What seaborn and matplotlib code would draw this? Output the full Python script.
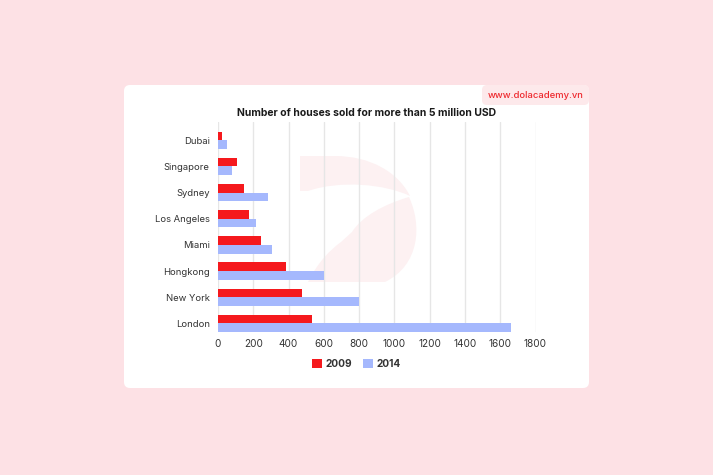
import pandas as pd
import matplotlib.pyplot as plt
import seaborn as sns
from matplotlib.patches import FancyBboxPatch, PathPatch
from matplotlib.path import Path
from matplotlib.transforms import Affine2D

# Data
cities = ['Dubai', 'Singapore', 'Sydney', 'Los Angeles', 'Miami', 'Hongkong', 'New York', 'London']
sold_2009 = [23, 108, 146, 176, 244, 386, 475, 533]
sold_2014 = [51, 81, 285, 217, 308, 600, 800, 1660]
years = ['2009', '2014']
x_ticks = [0, 200, 400, 600, 800, 1000, 1200, 1400, 1600, 1800]

W, H = 713, 475
BG = '#fde1e5'
RED = '#f5191d'
BLUE = '#a5b8fd'
TEXT = '#333333'


def build_frame():
    """Long format table for seaborn."""
    rows = []
    for city, a, b in zip(cities, sold_2009, sold_2014):
        rows.append({'city': city, 'year': years[0], 'houses': a})
        rows.append({'city': city, 'year': years[1], 'houses': b})
    return pd.DataFrame(rows)


df = build_frame()

sns.set_theme(style='white')
plt.rcParams['font.family'] = ['Inter', 'DejaVu Sans']

fig = plt.figure(figsize=(W / 100, H / 100), dpi=100)
fig.patch.set_facecolor(BG)

# pixel coords (y from top) -> figure
px = Affine2D().scale(1 / W, -1 / H).translate(0, 1) + fig.transFigure

# white card
card = FancyBboxPatch((124, 85), 465, 303, boxstyle='round,pad=0,rounding_size=6',
                      transform=px, facecolor='white', edgecolor='none', zorder=0)
fig.patches.append(card)

# badge top right
badge = FancyBboxPatch((482, 85), 107, 20, boxstyle='round,pad=0,rounding_size=5',
                       transform=px, facecolor='#fde9eb', edgecolor='none', zorder=1)
fig.patches.append(badge)
fig.text(535.5, 95.5, 'www.dolacademy.vn', transform=px, ha='center', va='center',
         fontsize=6.8, color='#ee2a2f', fontweight='medium')

# faint logo watermark (a "D" shape)
M, L, C, Z = Path.MOVETO, Path.LINETO, Path.CURVE4, Path.CLOSEPOLY
upper = Path([(300, 156), (335, 156),
              (370, 156), (398, 172), (410, 196),
              (385, 184), (340, 180), (308, 191),
              (300, 191),
              (300, 156)],
             [M, L, C, C, C, C, C, C, L, Z])
lower = Path([(308, 282),
              (318, 262), (330, 250), (341, 242),
              (352, 232),
              (362, 216), (385, 204), (409, 197),
              (422, 225), (420, 265), (385, 282),
              (308, 282)],
             [M, C, C, C, L, C, C, C, C, C, C, Z])
for p in (upper, lower):
    fig.patches.append(PathPatch(p, transform=px, facecolor='#fdf1f2',
                                 edgecolor='none', zorder=1))

ax = fig.add_axes([218 / W, 1 - 332 / H, 317.5 / W, 210 / H])
ax.patch.set_alpha(0)
ax.set_zorder(2)

sns.barplot(data=df, y='city', x='houses', hue='year', order=cities,
            palette=[RED, BLUE], width=0.66, orient='h', ax=ax,
            saturation=1, linewidth=0, legend=True)

ax.set_xlim(0, 1800)
ax.set_ylim(7.33, -0.70)
ax.set_xticks(x_ticks)
ax.set_xticklabels([str(t) for t in x_ticks])
ax.grid(axis='x', color='#e6e6e6', linewidth=1)
ax.set_axisbelow(True)
for s in ax.spines.values():
    s.set_visible(False)
ax.tick_params(axis='both', length=0, labelcolor=TEXT)
ax.tick_params(axis='y', pad=6, labelsize=6.8)
ax.tick_params(axis='x', pad=5, labelsize=7.2)
ax.set_xlabel('')
ax.set_ylabel('')

leg = ax.legend(loc='center', bbox_to_anchor=(356.5, 364), bbox_transform=px,
                ncol=2, frameon=False, handlelength=1.0, handleheight=1.0,
                handletextpad=0.35, columnspacing=1.0,
                prop={'size': 7.3, 'weight': 'bold'})
for t in leg.get_texts():
    t.set_color(TEXT)

fig.text(366.5, 113.5, 'Number of houses sold for more than 5 million USD', transform=px,
         ha='center', va='center', fontsize=7.5, fontweight='bold', color='#1a1a1a')

fig.savefig('out.png', dpi=100, facecolor=fig.get_facecolor())
